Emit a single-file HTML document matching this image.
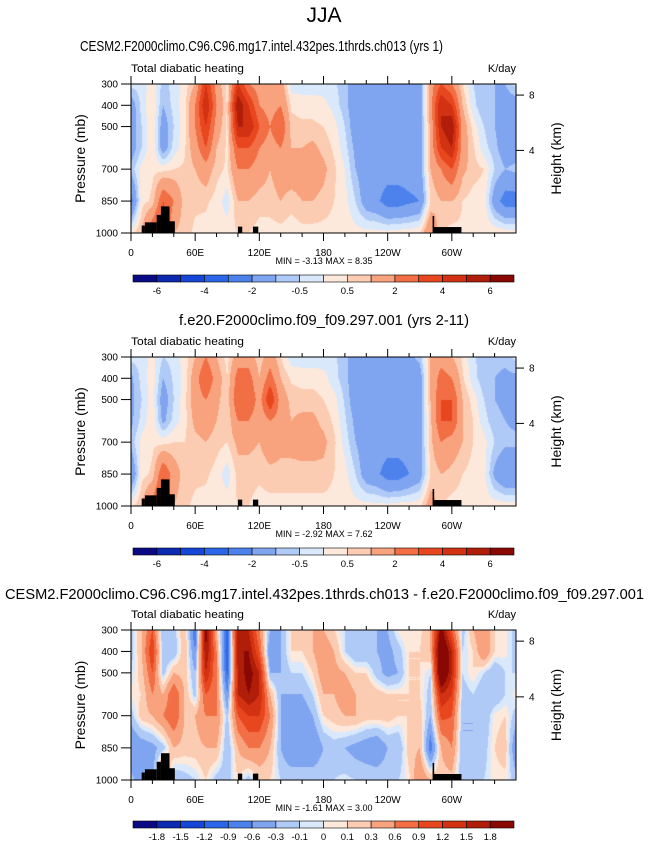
<!DOCTYPE html>
<html><head><meta charset="utf-8"><style>
html,body{margin:0;padding:0;background:#fff;}
#root{position:relative;width:648px;height:844px;overflow:hidden;font-family:"Liberation Sans",sans-serif;}
canvas{position:absolute;}
svg{position:absolute;left:0;top:0;}
</style></head><body>
<div id="root">
<canvas id="c1" width="385" height="149" style="left:131px;top:84px"></canvas>
<canvas id="c2" width="385" height="149" style="left:131px;top:357px"></canvas>
<canvas id="c3" width="385" height="150" style="left:131px;top:630px"></canvas>
<svg id="ov" width="648" height="844"></svg>
</div>
<script>
const pressures=[300,400,500,600,700,850,1000];
const lons=[0,10,20,30,40,50,60,70,80,90,100,110,120,130,140,150,160,170,180,190,200,210,220,230,240,250,260,270,280,290,300,310,320,330,340,350];
const levelsFull=[-6,-5,-4,-3,-2,-1,-0.5,0,0.5,1,2,3,4,5,6];
const levelsDiff=[-1.8,-1.5,-1.2,-0.9,-0.6,-0.3,-0.1,0,0.1,0.3,0.6,0.9,1.2,1.5,1.8];
const colors=["#0a0a86","#0c2ab0","#1446d8","#2c66e8","#4d82ec","#7fa5f1","#b0caf7","#d9e8fb","#fde9dc","#fcccb2","#f8a27e","#f26e45","#e8461f","#d23212","#b01e09","#8a0804"];
const xTickLabels=["0","60E","120E","180","120W","60W"];
const xTickLons=[0,60,120,180,240,300];
const yTickLabels=[300,400,500,700,850,1000];
const hTicks=[8,4];
const hTickP=[352,612];
const topoLon0=[10,13,24,28,36,100,114,282,283];
const topoLon1=[13,24,28,36,41,104,119,283.5,309];
const topoTop=[965,950,915,875,945,970,970,920,972];
const panel1=[
[-0.3,-1.5,-1.5,-1.5,-0.8,-2.5,0.3],[-0.3,-0.3,-0.5,-0.5,0.2,0.3,1],[0.3,0.5,0.5,0.5,0.4,0.6,3],[-0.7,-1,-1.5,-1.5,0.3,3,4],
[-0.3,-0.3,-0.5,-0.3,0.5,2,1],[0.2,0.3,0.3,0.4,0.6,0.7,0.7],[1,2,2,1.5,1,0.6,0.4],[4,5,4,3,1.5,0.6,0.3],
[1.5,2,1.5,1,0.7,0.3,0.2],[0.3,0.4,0.4,0.4,0.4,-0.3,0.3],[4,6,5,3,2,1,0.5],[2,4,5,3,2,1,0.5],
[1.5,2,3,2,1.5,0.7,0.3],[1,1.5,2,1.5,1,0.7,0.3],[1.5,2,3,2,1.5,1,0.3],[-0.3,0.4,0.7,1,1.5,0.7,0.2],
[-0.3,0.3,0.6,1,1.5,1,0.3],[-0.3,0.3,0.6,1.2,1.5,1,0.3],[-0.3,0.2,0.5,0.8,1.2,0.8,0.3],[-0.4,-0.2,0.2,0.4,0.6,0.5,0.3],
[-0.8,-0.8,-0.5,-0.3,0,0.2,0.3],[-1.5,-1.5,-1.5,-1.2,-1,-0.5,0.2],[-1.5,-1.5,-1.5,-1.5,-1.5,-1.5,0.2],[-1.5,-1.5,-1.5,-1.5,-1.5,-1.8,0.2],
[-1.5,-1.5,-1.5,-1.5,-1.5,-2.5,0.2],[-1.5,-1.5,-1.5,-1.5,-1.5,-2.5,0.3],[-1.5,-1.5,-1.5,-1.5,-1.5,-2.2,0.3],[-1.5,-1.5,-1.5,-1.5,-1.5,-2,0.5],
[1.5,1.5,1.2,1.2,1,0.5,2],[3,5,5,4,2,1,0.5],[2,4,6,5,3,1,0.3],[0.5,1,1.5,1.5,1.2,0.5,0.4],
[-0.5,-0.3,0.3,0.6,0.7,0.3,0.4],[-1,-1,-0.5,-0.3,0.5,0.3,0.4],[-1,-1,-1,-0.8,-0.5,-1.5,0.4],[-1,-1.5,-1.5,-1.5,-1,-2.5,0.3]];
const panel2=[
[-0.3,-1.2,-1.2,-1.2,-0.8,-2,0.3],[-0.3,-0.3,-0.5,-0.3,0.2,0.3,1],[0.2,0.3,0.3,0.4,0.4,0.6,2.5],[-0.5,-1,-1.5,-1.2,0.3,3,3.5],
[-0.3,-0.4,-0.5,-0.3,0.5,1.5,1],[0.2,0.2,0.3,0.3,0.5,0.7,0.6],[1,1.5,1.5,1.2,0.8,0.6,0.4],[2,3,2,1.5,1,0.6,0.3],
[1,1.5,1.2,1,0.7,0.3,0.2],[0.3,0.5,0.6,0.5,0.5,-0.3,0.3],[1.5,2.5,3,2,1.2,0.7,0.5],[1.5,2.5,3,2,1.2,0.7,0.5],
[0.6,1,1.5,1.2,1,0.6,0.3],[1.5,2.5,4,2,1.5,0.8,0.3],[0.5,1,1.5,1.5,1.2,0.8,0.3],[-0.3,0.4,0.8,1,1.2,0.8,0.3],
[-0.3,0.3,0.7,1.2,1.3,0.8,0.3],[-0.3,0.3,0.7,1.2,1.3,0.8,0.3],[-0.3,0.2,0.5,0.8,1.2,0.8,0.3],[-0.4,-0.3,0.2,0.4,0.6,0.5,0.3],
[-0.8,-0.8,-0.6,-0.4,-0.2,0.2,0.3],[-1.5,-1.5,-1.5,-1.2,-1,-0.5,0.2],[-1.5,-1.5,-1.5,-1.5,-1.5,-1.5,0.2],[-1.5,-1.5,-1.5,-1.5,-1.5,-1.8,0.2],
[-1.5,-1.5,-1.5,-1.5,-1.5,-2.5,0.2],[-1.5,-1.5,-1.5,-1.5,-1.5,-2.5,0.3],[-1.2,-1.5,-1.5,-1.5,-1.5,-2,0.3],[-0.8,-1.5,-1.5,-1.5,-1.5,-1.5,0.4],
[1,1,1,0.8,0.8,0.5,1.5],[1.5,2.5,3,3,2,1,0.5],[1,2,3,3,1.5,0.8,0.3],[0.4,0.6,1,1,1,0.5,0.3],
[-0.4,-0.3,0.3,0.5,0.5,0.3,0.3],[-0.8,-0.8,-0.5,-0.3,0.2,0.2,0.3],[-0.8,-1,-1,-0.8,-0.5,-1.2,0.3],[-0.8,-1.2,-1.2,-1,-0.8,-2,0.3]];
const panel3=[
[-0.2,-0.2,-0.1,0.05,-0.2,-0.6,-0.2],[0.3,0.3,0.2,0.1,0.2,-0.5,-0.5],[0.9,1.2,0.9,0.6,0.3,-0.4,-0.5],[-0.3,-0.3,-0.2,0.3,0.6,-0.2,1],
[-0.2,-0.3,0.3,0.9,0.9,0.3,-0.3],[0.3,0.3,0.2,0.3,0.3,0.2,-0.2],[-0.9,-0.6,-0.3,-0.2,0.3,0.2,-0.1],[2,1.8,1.5,0.9,0.6,0.3,0.1],
[0.3,0.6,0.6,0.6,0.6,0.3,-0.2],[-1,-1.2,-1,-0.6,-0.2,-0.3,-0.2],[1.8,1.8,1.5,1.5,0.9,0.3,0.1],[1.5,1.8,2,1.8,1.2,0.6,-0.2],
[0.6,0.9,1.5,1.5,1.2,0.6,0.1],[-0.3,-0.6,-0.3,0.3,0.6,0.3,0.1],[-0.3,-0.3,-0.3,-0.3,-0.3,-0.3,-0.1],[0.1,0.1,-0.1,-0.3,-0.6,-0.6,-0.1],
[0.3,0.1,-0.1,-0.3,-0.5,-0.6,-0.1],[0.3,0.3,0.1,-0.1,-0.3,-0.6,-0.1],[0.3,0.5,0.5,0.3,0.1,-0.3,-0.1],[0.1,0.3,0.4,0.3,0.2,-0.2,-0.1],
[-0.1,-0.1,0.3,0.5,0.3,-0.3,-0.05],[-0.2,-0.3,0.1,0.3,0.3,-0.4,-0.1],[-0.2,-0.3,0.1,0.3,0.2,-0.5,-0.1],[-0.3,-0.3,-0.2,0.2,0.2,-0.6,-0.1],
[-0.3,-0.4,-0.4,0.1,0.2,-0.3,-0.1],[0.05,-0.2,-0.3,0.1,0.1,-0.3,-0.1],[0.1,0.1,0.1,0.1,0.1,0.2,0.05],[0.05,0.1,0.1,0.1,0.2,0.3,0.6],
[0.3,0.3,-0.1,-0.2,-0.3,-0.8,0.3],[2,2.5,2.5,1.5,1,0.3,0.2],[0.9,1.5,1.5,1.2,0.9,0.6,0.2],[-0.2,-0.1,-0.1,-0.2,-0.3,-0.3,-0.3],
[0.3,0.1,0.1,-0.1,-0.3,-0.3,-0.1],[0.6,0.6,-0.1,-0.3,-0.3,-0.2,-0.1],[0.1,0.1,-0.3,-0.3,0.05,0.1,0.05],[0.05,0.05,-0.1,-0.1,0.1,0.2,0.05]];

const panels=[
 {id:'c1',top:84,h:149,data:panel1,levels:levelsFull,title:'CESM2.F2000climo.C96.C96.mg17.intel.432pes.1thrds.ch013 (yrs 1)',tx:80,tw:363,ty:51,mm:'MIN = -3.13  MAX =  8.35',cb:275,cbl:[1,3,5,7,9,11,13,15],name:'panel-1'},
 {id:'c2',top:357,h:149,data:panel2,levels:levelsFull,title:'f.e20.F2000climo.f09_f09.297.001 (yrs 2-11)',tx:179,tw:290,ty:325,mm:'MIN = -2.92  MAX =  7.62',cb:548,cbl:[1,3,5,7,9,11,13,15],name:'panel-2'},
 {id:'c3',top:630,h:150,data:panel3,levels:levelsDiff,title:'CESM2.F2000climo.C96.C96.mg17.intel.432pes.1thrds.ch013 - f.e20.F2000climo.f09_f09.297.001',tx:5,tw:639,ty:599,mm:'MIN = -1.61  MAX =  3.00',cb:821,cbl:[1,2,3,4,5,6,7,8,9,10,11,12,13,14,15],name:'panel-3'}];

const L=131,W=385;
function xScale(lon){return L+lon/360*W;}
function colorFor(v,lv){let i=0;while(i<lv.length&&v>=lv[i])i++;return colors[i];}
function sample(data,lon,p){
 const n=lons.length;let fi=lon/10;let i0=Math.floor(fi)%n,i1=(i0+1)%n,tx=fi-Math.floor(fi);
 let j=0;while(j<pressures.length-2&&p>pressures[j+1])j++;
 let ty=(p-pressures[j])/(pressures[j+1]-pressures[j]);ty=Math.max(0,Math.min(1,ty));
 const a=data[i0][j]*(1-ty)+data[i0][j+1]*ty,b=data[i1][j]*(1-ty)+data[i1][j+1]*ty;
 return a*(1-tx)+b*tx;}
const NS='http://www.w3.org/2000/svg';
const ov=document.getElementById('ov');
function el(tag,attrs,parent,txt){const e=document.createElementNS(NS,tag);for(const k in attrs)e.setAttribute(k,attrs[k]);if(txt!==undefined)e.textContent=txt;(parent||ov).appendChild(e);return e;}
const jja=el('text',{x:324,y:22,'text-anchor':'middle','font-size':21,fill:'#000'},ov,'JJA');



panels.forEach(P=>{
 const cv=document.getElementById(P.id),ctx=cv.getContext('2d');
 const yScale=p=>P.top+(p-300)/700*P.h;
 for(let px=0;px<W;px++){
  const lon=(px+0.5)/W*360;
  for(let py=0;py<P.h;py++){
   const p=300+(py+0.5)/P.h*700;
   ctx.fillStyle=colorFor(sample(P.data,lon,p),P.levels);
   ctx.fillRect(px,py,1,1);
  }}
 const g=el('g',{});
 
 
 for(let k=0;k<topoLon0.length;k++){
  const r=el('rect',{x:xScale(topoLon0[k]),y:yScale(topoTop[k]),width:xScale(topoLon1[k])-xScale(topoLon0[k]),height:yScale(1000)-yScale(topoTop[k]),fill:'#000'},g);
  
  
 }
 const t=el('text',{x:P.tx,y:P.ty,'font-size':14.5,textLength:P.tw,lengthAdjust:'spacingAndGlyphs'},g,P.title);
 
 
 const s=el('text',{x:131,y:P.top-12,'font-size':11,textLength:113,lengthAdjust:'spacingAndGlyphs'},g,'Total diabatic heating');
 
 
 const u=el('text',{x:516,y:P.top-12,'font-size':11,'text-anchor':'end'},g,'K/day');
 
 
 const y0=P.top,y1=P.top+P.h;
 el('rect',{x:L,y:y0,width:W,height:P.h,fill:'none',stroke:'#000','stroke-width':1},g);
 for(let lon=0;lon<360;lon+=20){
  const maj=lon%60===0,len=maj?8:4,x=xScale(lon);
  el('line',{x1:x,x2:x,y1:y1,y2:y1+len,stroke:'#000'},g);
  el('line',{x1:x,x2:x,y1:y0,y2:y0-len,stroke:'#000'},g);
 }
 xTickLons.forEach((lon,i)=>{
  const lt=el('text',{x:xScale(lon),y:y1+23,'font-size':10,'text-anchor':'middle'},g,xTickLabels[i]);
  
  
 });
 yTickLabels.forEach(p=>{
  const y=yScale(p);
  el('line',{x1:L-10,x2:L,y1:y,y2:y,stroke:'#000'},g);
  const lt=el('text',{x:118,y:y+3.5,'font-size':10,'text-anchor':'end'},g,String(p));
  
  
 });
 hTicks.forEach((h,i)=>{
  const y=yScale(hTickP[i]);
  el('line',{x1:L+W,x2:L+W+8,y1:y,y2:y,stroke:'#000'},g);
  const lt=el('text',{x:L+W+13,y:y+3.5,'font-size':10},g,String(h));
  
  
 });
 const cy=(y0+y1)/2;
 const ya=el('text',{x:0,y:0,'font-size':14,'text-anchor':'middle',transform:`translate(85,${cy}) rotate(-90)`},g,'Pressure (mb)');
 
 
 const yb=el('text',{x:0,y:0,'font-size':14,'text-anchor':'middle',transform:`translate(561,${cy}) rotate(-90)`},g,'Height (km)');
 
 
 const mm=el('text',{x:324,y:y1+31,'font-size':9,'text-anchor':'middle'},g,P.mm);
 
 
 const cx0=133,cx1=514,bw=(cx1-cx0)/16;
 for(let k=0;k<16;k++){
  const r=el('rect',{x:cx0+k*bw,y:P.cb,width:bw,height:7,fill:colors[k],stroke:'#000','stroke-width':0.6},g);
  
  
 }
 P.cbl.forEach(k=>{
  const lt=el('text',{x:cx0+k*bw,y:P.cb+19,'font-size':9.5,'text-anchor':'middle'},g,String(P.levels[k-1]));
  
  
 });
});
</script>
</body></html>
